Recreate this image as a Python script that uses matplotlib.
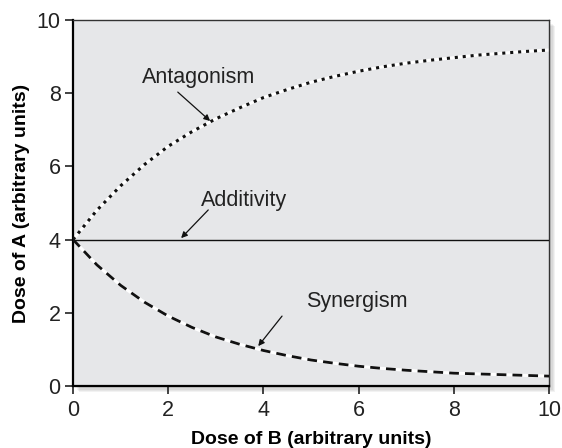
import matplotlib
matplotlib.use("Agg")
import matplotlib.pyplot as plt
from matplotlib.patches import Rectangle

plt.rcParams['font.family'] = ['Liberation Sans', 'DejaVu Sans']

# dose of B sampled every half unit
dose_b = [0, 0.5, 1, 1.5, 2, 2.5, 3, 3.5, 4, 4.5, 5, 5.5, 6, 6.5, 7, 7.5, 8, 8.5, 9, 9.5, 10]
antagonism = [4.0, 4.8, 5.47, 6.05, 6.55, 6.95, 7.3, 7.6, 7.88, 8.1, 8.3, 8.46, 8.6, 8.72, 8.82,
              8.9, 8.97, 9.04, 9.09, 9.14, 9.18]
additivity = [4.0] * len(dose_b)
synergism = [4.0, 3.31, 2.75, 2.29, 1.91, 1.6, 1.34, 1.14, 0.97, 0.83, 0.71, 0.62, 0.54, 0.48,
             0.43, 0.39, 0.35, 0.33, 0.31, 0.29, 0.27]

fig = plt.figure(figsize=(5.62, 4.48), dpi=100)
ax = fig.add_axes([0.130, 0.1384, 0.847, 0.817])
ax.set_facecolor('#e6e7e9')

# soft drop shadow behind the plot box
pos = ax.get_position()
for i in range(5):
    off = (i + 1) * 1.2
    fig.patches.append(Rectangle((pos.x0 + off / 562, pos.y0 - off / 448), pos.width, pos.height,
                                 transform=fig.transFigure, facecolor='black', alpha=0.05,
                                 edgecolor='none', zorder=-1))

ax.plot(dose_b, antagonism, color='white', lw=2.2, zorder=2)
ax.plot(dose_b, antagonism, color='#111111', lw=2.2, ls=(0, (1, 1.6)), zorder=3)
ax.plot(dose_b, additivity, color='#111111', lw=1.0, zorder=3)
ax.plot(dose_b, synergism, color='white', lw=2.2, zorder=2)
ax.plot(dose_b, synergism, color='#111111', lw=2.0, ls=(0, (3.5, 2.2)), zorder=3)

arrow = dict(arrowstyle='-|>', color='#111111', lw=0.9, mutation_scale=9, shrinkA=0, shrinkB=0)
label_style = dict(fontsize=15.5, ha='left', va='center', color='#222222')
ax.text(1.45, 8.44, 'Antagonism', **label_style)
ax.annotate('', xy=(2.88, 7.24), xytext=(2.2, 8.03), arrowprops=arrow)
ax.text(2.69, 5.08, 'Additivity', **label_style)
ax.annotate('', xy=(2.27, 4.04), xytext=(2.84, 4.81), arrowprops=arrow)
ax.text(4.9, 2.3, 'Synergism', **label_style)
ax.annotate('', xy=(3.89, 1.09), xytext=(4.39, 1.91), arrowprops=arrow)

ax.set_xlim(0, 10)
ax.set_ylim(0, 10)
ax.set_xticks([0, 2, 4, 6, 8, 10])
ax.set_yticks([0, 2, 4, 6, 8, 10])
ax.tick_params(direction='out', length=6, width=1.2, labelsize=15.5, colors='#222222', pad=3)
ax.tick_params(axis='x', pad=4)

ax.spines['left'].set_linewidth(1.6)
ax.spines['bottom'].set_linewidth(1.6)
ax.spines['top'].set_color('#333333')
ax.spines['right'].set_color('#333333')
ax.spines['top'].set_linewidth(1.0)
ax.spines['right'].set_linewidth(1.0)

ax.set_xlabel('Dose of B (arbitrary units)', fontsize=14, fontweight='bold', labelpad=7)
ax.set_ylabel('Dose of A (arbitrary units)', fontsize=14, fontweight='bold', labelpad=5)

fig.savefig('out.png', dpi=100)
